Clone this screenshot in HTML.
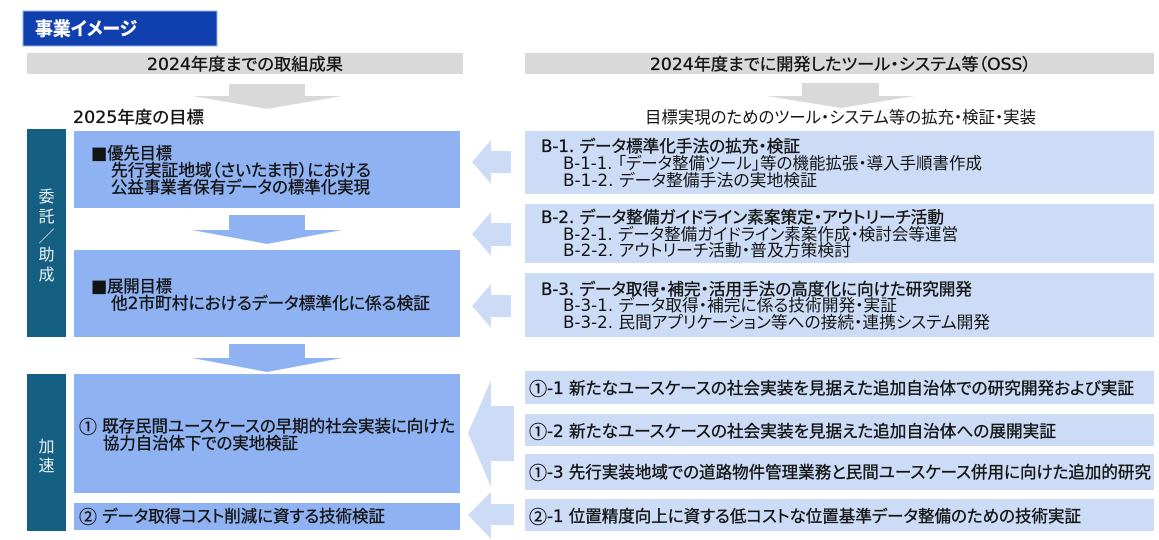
<!DOCTYPE html>
<html lang="ja"><head><meta charset="utf-8"><title>事業イメージ</title>
<style>
html,body{margin:0;padding:0;background:#fff;width:1159px;height:540px;overflow:hidden}
svg{display:block;filter:blur(.35px)}
text{font-family:"DejaVu Sans","Noto Sans CJK JP",sans-serif;font-size:16.5px;fill:#141414;dominant-baseline:central;font-feature-settings:"palt"}
.c{font-family:"Noto Sans CJK JP",sans-serif}
.n{font-family:"Noto Sans CJK JP",sans-serif;font-size:18px}
.b{stroke:#141414;stroke-width:.35}
.w{fill:#e8f0f4;text-anchor:middle;font-size:16px;font-family:"Noto Sans CJK JP",sans-serif}
</style></head><body>
<svg width="1159" height="540" viewBox="0 0 1159 540" xmlns="http://www.w3.org/2000/svg">
<rect x="23" y="11" width="194" height="35" fill="#103fae" stroke="#8fb2e8" stroke-width="1"/>
<rect x="27" y="53" width="436" height="21" fill="#d9d9d9"/>
<rect x="525" y="53" width="629" height="21" fill="#d9d9d9"/>
<polygon points="229,84 305,84 305,96 342,96 267,109 192,96 229,96" fill="#d9d9d9"/>
<polygon points="802,83 879,83 879,96 915,96 841,108 766,96 802,96" fill="#d9d9d9"/>
<rect x="27" y="129" width="39" height="208" fill="#156082"/>
<rect x="27" y="374" width="39" height="157" fill="#156082"/>
<g fill="#8fb2f3">
<rect x="74" y="131" width="386" height="77"/>
<rect x="74" y="250" width="386" height="87"/>
<rect x="74" y="374" width="386" height="119"/>
<rect x="74" y="503" width="386" height="27"/>
<polygon points="229,215 305,215 305,230 342,230 267,244 192,230 229,230"/>
<polygon points="229,344 305,344 305,358 342,358 267,372 192,358 229,358"/>
</g>
<g fill="#ccdcf6">
<rect x="525" y="131" width="629" height="63"/>
<rect x="525" y="204" width="629" height="59"/>
<rect x="525" y="273" width="629" height="64"/>
<rect x="525" y="371" width="629" height="33"/>
<rect x="525" y="414" width="629" height="32"/>
<rect x="525" y="454" width="629" height="36"/>
<rect x="525" y="499" width="629" height="32"/>
<polygon points="472,162 491,140 491,151 511,151 511,173 491,173 491,184"/>
<polygon points="472,234 491,212 491,223 511,223 511,246 491,246 491,256"/>
<polygon points="472,306 491,284 491,295 511,295 511,317 491,317 491,328"/>
<polygon points="468,433 491,380 491,406 514,406 514,461 491,461 491,487"/>
<polygon points="468,515 491,492 491,504 514,504 514,525 491,525 491,539"/>
</g>
<text x="35" y="30" textLength="102" lengthAdjust="spacingAndGlyphs" style="font-size:18.5px;font-weight:700;fill:#fff;stroke:#fff;stroke-width:.3">事業イメージ</text>
<text class="w" x="46.5" y="195">委</text>
<text class="w" x="46.5" y="215">託</text>
<text class="w" x="46.5" y="235">／</text>
<text class="w" x="46.5" y="253">助</text>
<text class="w" x="46.5" y="273">成</text>
<text class="w" x="46.5" y="445">加</text>
<text class="w" x="46.5" y="464">速</text>
<g transform="translate(0,.5)">
<text class="b" x="147" y="64" textLength="196" lengthAdjust="spacingAndGlyphs">2024年度までの取組成果</text>
<text class="b" x="650" y="64" textLength="381" lengthAdjust="spacingAndGlyphs">2024年度までに開発したツール・システム等（OSS）</text>
<text class="b" x="73" y="117" textLength="131" lengthAdjust="spacingAndGlyphs">2025年度の目標</text>
<text x="645" y="117" textLength="391" lengthAdjust="spacingAndGlyphs">目標実現のためのツール・システム等の拡充・検証・実装</text>
<text class="b" x="91" y="153" textLength="81" lengthAdjust="spacingAndGlyphs"><tspan class="c">■</tspan>優先目標</text>
<text class="b" x="111" y="170" textLength="260" lengthAdjust="spacingAndGlyphs">先行実証地域（さいたま市）における</text>
<text class="b" x="111" y="187" textLength="259" lengthAdjust="spacingAndGlyphs">公益事業者保有データの標準化実現</text>
<text class="b" x="91" y="286" textLength="81" lengthAdjust="spacingAndGlyphs"><tspan class="c">■</tspan>展開目標</text>
<text class="b" x="111" y="303" textLength="319" lengthAdjust="spacingAndGlyphs">他2市町村におけるデータ標準化に係る検証</text>
<text class="b" x="79" y="426" textLength="376" lengthAdjust="spacingAndGlyphs"><tspan class="n">①</tspan> 既存民間ユースケースの早期的社会実装に向けた</text>
<text class="b" x="103" y="443" textLength="195" lengthAdjust="spacingAndGlyphs">協力自治体下での実地検証</text>
<text class="b" x="79" y="516" textLength="306" lengthAdjust="spacingAndGlyphs"><tspan class="n">②</tspan> データ取得コスト削減に資する技術検証</text>
<text class="b" x="541" y="146" textLength="259" lengthAdjust="spacingAndGlyphs">B-1. データ標準化手法の拡充・検証</text>
<text x="563" y="163" textLength="419" lengthAdjust="spacingAndGlyphs">B-1-1. 「データ整備ツール」等の機能拡張・導入手順書作成</text>
<text x="563" y="180" textLength="254" lengthAdjust="spacingAndGlyphs">B-1-2. データ整備手法の実地検証</text>
<text class="b" x="541" y="217" textLength="403" lengthAdjust="spacingAndGlyphs">B-2. データ整備ガイドライン素案策定・アウトリーチ活動</text>
<text x="563" y="234" textLength="395" lengthAdjust="spacingAndGlyphs">B-2-1. データ整備ガイドライン素案作成・検討会等運営</text>
<text x="563" y="250" textLength="288" lengthAdjust="spacingAndGlyphs">B-2-2. アウトリーチ活動・普及方策検討</text>
<text class="b" x="541" y="289" textLength="431" lengthAdjust="spacingAndGlyphs">B-3. データ取得・補完・活用手法の高度化に向けた研究開発</text>
<text x="563" y="305" textLength="334" lengthAdjust="spacingAndGlyphs">B-3-1. データ取得・補完に係る技術開発・実証</text>
<text x="563" y="322" textLength="427" lengthAdjust="spacingAndGlyphs">B-3-2. 民間アプリケーション等への接続・連携システム開発</text>
<text class="b" x="529" y="388" textLength="605" lengthAdjust="spacingAndGlyphs"><tspan class="n">①</tspan>-1 新たなユースケースの社会実装を見据えた追加自治体での研究開発および実証</text>
<text class="b" x="529" y="431" textLength="527" lengthAdjust="spacingAndGlyphs"><tspan class="n">①</tspan>-2 新たなユースケースの社会実装を見据えた追加自治体への展開実証</text>
<text class="b" x="529" y="472" textLength="622" lengthAdjust="spacingAndGlyphs"><tspan class="n">①</tspan>-3 先行実装地域での道路物件管理業務と民間ユースケース併用に向けた追加的研究</text>
<text class="b" x="529" y="516" textLength="552" lengthAdjust="spacingAndGlyphs"><tspan class="n">②</tspan>-1 位置精度向上に資する低コストな位置基準データ整備のための技術実証</text>
</g>
</svg>
</body></html>
